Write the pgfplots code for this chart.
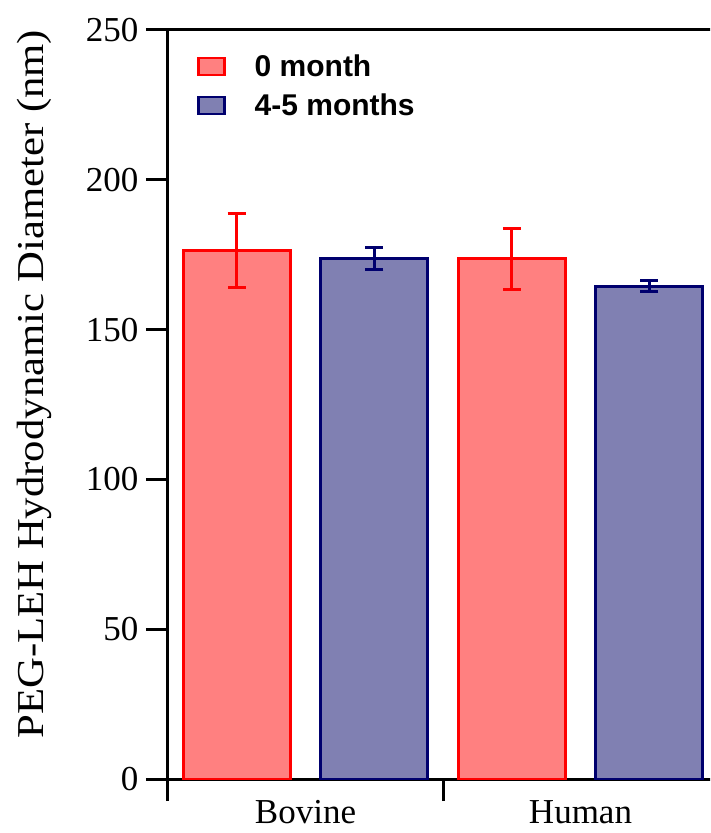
\documentclass[border=0pt]{standalone}
\usepackage{fontspec}
\setmainfont{Liberation Serif}
\setsansfont{Liberation Sans}
\usepackage{graphicx}
\usepackage{pgfplots}
\pgfplotsset{compat=1.18}
\definecolor{redfill}{RGB}{255,128,128}
\definecolor{bluefill}{RGB}{128,128,178}
\definecolor{bluedraw}{RGB}{0,0,110}
\definecolor{reddraw}{RGB}{255,0,0}
\begin{document}
\begin{tikzpicture}
\useasboundingbox (-168pt,-54pt) rectangle (542pt,779pt);
\clip (-168pt,-54pt) rectangle (542pt,779pt);
\begin{axis}[
  scale only axis, width=550pt, height=749pt,
  xmin=0, xmax=2, ymin=0, ymax=250,
  separate axis lines,
  axis line style={line width=3pt, black},
  ytick={0,50,...,250}, xtick={0,1,2}, xticklabels={},
  tick align=outside, xtick pos=bottom, ytick pos=left,
  major tick length=22pt,
  tick style={line width=3pt, black},
  extra x ticks={0.5,1.5}, extra x tick labels={Bovine,Human},
  extra x tick style={major tick length=0pt, tick label style={yshift=-18pt}},
  tick label style={font=\fontsize{35}{42}\selectfont},
  yticklabel style={xshift=-4pt},
  /pgf/number format/assume math mode=true,
  ylabel={\scalebox{1.125}[1]{PEG-LEH Hydrodynamic Diameter (nm)}},
  ylabel style={font=\fontsize{38}{46}\selectfont, at={(axis description cs:-0.2436,0.527)}, anchor=center},
  legend style={draw=none, fill=none, inner sep=0pt, at={(axis description cs:0.0527,0.97)}, anchor=north west, font=\sffamily\bfseries\fontsize{30}{36}\selectfont, row sep=12pt,
    /tikz/every odd column/.append style={column sep=27pt}},
  legend image code/.code={\draw[#1, line width=2.5pt] (0pt,-8.5pt) rectangle (26pt,8.5pt);},
  legend cell align=left,
]
\addplot[ybar, bar width=107pt, bar shift=0pt, draw=reddraw, fill=redfill, line width=3pt,
  error bars/.cd, y dir=both, y explicit,
  error bar style={line width=3pt, reddraw},
  error mark options={rotate=90, mark size=9pt, line width=3pt, reddraw}]
  coordinates {(0.25,176.3) +- (0,12.4) (1.25,173.6) +- (0,10.3)};
\addlegendentry{0 month}
\addplot[ybar, bar width=107pt, bar shift=0pt, draw=bluedraw, fill=bluefill, line width=3pt,
  error bars/.cd, y dir=both, y explicit,
  error bar style={line width=3pt, bluedraw},
  error mark options={rotate=90, mark size=9pt, line width=3pt, bluedraw}]
  coordinates {(0.75,173.8) +- (0,3.6) (1.75,164.5) +- (0,1.8)};
\addlegendentry{4-5 months}
\end{axis}
\end{tikzpicture}
\end{document}
